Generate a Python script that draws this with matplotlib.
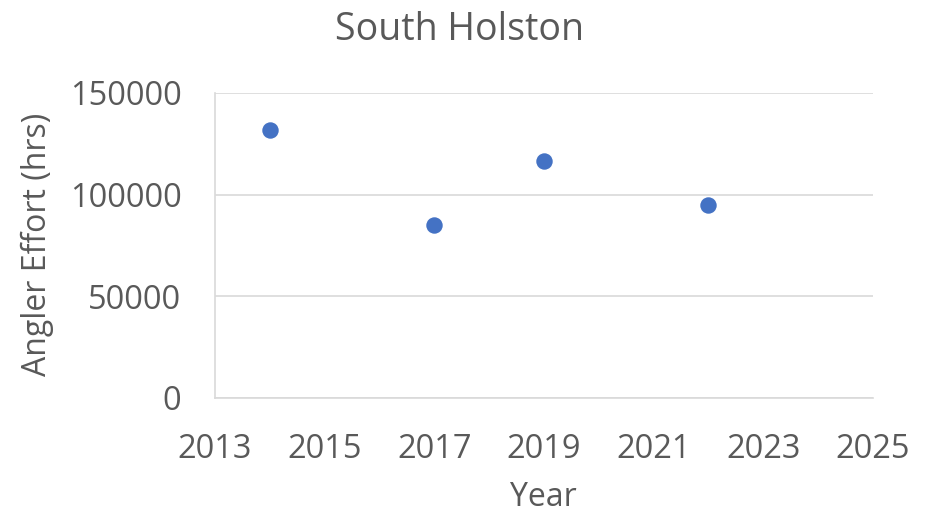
import matplotlib.pyplot as plt

years = [2014, 2017, 2019, 2022]
effort = [132000, 85000, 116500, 95000]

x_ticks = [2013, 2015, 2017, 2019, 2021, 2023, 2025]
y_ticks = [0, 50000, 100000, 150000]

plt.rcParams['font.family'] = ['Open Sans', 'DejaVu Sans']
text_col = '#595959'
line_col = '#d9d9d9'

fig = plt.figure(figsize=(9.38, 5.14), dpi=100)
ax = fig.add_axes([0.229, 0.2257, 0.7015, 0.5934])

ax.scatter(years, effort, s=140, color='#4472C4', zorder=3, linewidths=0)

ax.set_xlim(2013, 2025)
ax.set_ylim(0, 150000)
ax.set_xticks(x_ticks)
ax.set_yticks(y_ticks)
ax.grid(axis='y', color=line_col, linewidth=1.2)
ax.set_axisbelow(True)
for s in ['top', 'right']:
    ax.spines[s].set_visible(False)
for s in ['left', 'bottom']:
    ax.spines[s].set_color(line_col)
    ax.spines[s].set_linewidth(1.2)
ax.tick_params(length=0, labelsize=23.5, colors=text_col)
ax.tick_params(axis='x', pad=25)
ax.tick_params(axis='y', pad=24)

fig.text(0.49, 0.942, 'South Holston', fontsize=27, color=text_col,
         ha='center', va='center')

ax.set_xlabel('Year', fontsize=23, color=text_col)
ax.xaxis.label.set_va('center')
ax.xaxis.set_label_coords(0.5, -0.326)
ax.set_ylabel('Angler Effort (hrs)', fontsize=23, color=text_col)
ax.yaxis.label.set_va('center')
ax.yaxis.set_label_coords(-0.269, 0.505)

fig.savefig('out.png', dpi=100)
